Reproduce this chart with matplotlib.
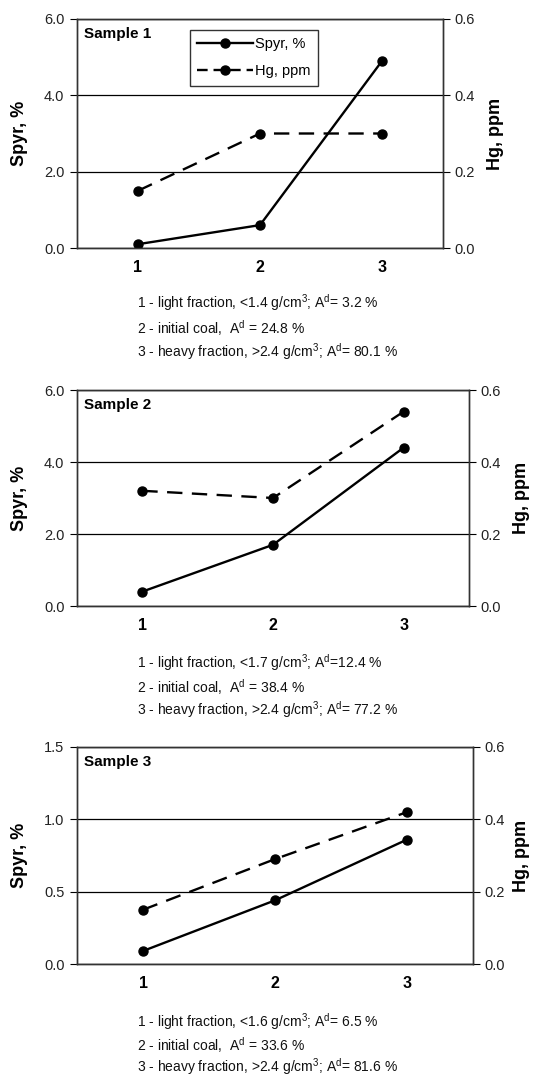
import numpy as np
import matplotlib
matplotlib.use('Agg')
import matplotlib.pyplot as plt
from matplotlib.ticker import FormatStrFormatter
from matplotlib.lines import Line2D

plt.rcParams['font.family'] = ['Liberation Sans', 'DejaVu Sans']
plt.rcParams['mathtext.fontset'] = 'custom'
plt.rcParams['mathtext.rm'] = 'Liberation Sans'
plt.rcParams['mathtext.it'] = 'Liberation Sans'

# data
fractions = [1, 2, 3]
tick_labels = ['1', '2', '3']
samples = ['Sample 1', 'Sample 2', 'Sample 3']
spyr = [[0.1, 0.6, 4.9],
        [0.4, 1.7, 4.4],
        [0.09, 0.44, 0.86]]
hg = [[0.15, 0.30, 0.30],
      [0.32, 0.30, 0.54],
      [0.15, 0.29, 0.42]]
spyr_max = [6.0, 6.0, 1.5]
spyr_step = [2.0, 2.0, 0.5]
hg_max = 0.6
hg_step = 0.2
captions = [
    ['1 - light fraction, <1.4 g/cm$^{3}$; A$^{\\rm d}$= 3.2 %',
     '2 - initial coal,  A$^{\\rm d}$ = 24.8 %',
     '3 - heavy fraction, >2.4 g/cm$^{3}$; A$^{\\rm d}$= 80.1 %'],
    ['1 - light fraction, <1.7 g/cm$^{3}$; A$^{\\rm d}$=12.4 %',
     '2 - initial coal,  A$^{\\rm d}$ = 38.4 %',
     '3 - heavy fraction, >2.4 g/cm$^{3}$; A$^{\\rm d}$= 77.2 %'],
    ['1 - light fraction, <1.6 g/cm$^{3}$; A$^{\\rm d}$= 6.5 %',
     '2 - initial coal,  A$^{\\rm d}$ = 33.6 %',
     '3 - heavy fraction, >2.4 g/cm$^{3}$; A$^{\\rm d}$= 81.6 %'],
]

W, H = 533, 1076
fig = plt.figure(figsize=(W / 100, H / 100), dpi=100)

# panel boxes in pixels: left, right, top, bottom
boxes = [(77, 443, 19, 248), (77, 469, 390, 606), (77, 473, 747, 964)]
right_lab_x = [496, 521, 521]
cap_y = [[303, 328, 352], [663, 687, 710], [1022, 1045, 1067]]

dash = (6.5, 4)
for i in range(3):
    l, r, t, b = boxes[i]
    ax = fig.add_axes([l / W, 1 - b / H, (r - l) / W, (b - t) / H])
    ax2 = ax.twinx()

    ax.plot(fractions, spyr[i], '-o', color='black', lw=1.7, ms=6.5, zorder=3)
    ax2.plot(fractions, hg[i], 'o', ls=(0, dash), color='black', lw=1.7, ms=6.5, zorder=3)

    ax.set_xlim(0.5, 3.5)
    ax.set_ylim(0, spyr_max[i])
    ax2.set_ylim(0, hg_max)
    ax.set_yticks(np.arange(0, spyr_max[i] + 1e-9, spyr_step[i]))
    ax2.set_yticks(np.arange(0, hg_max + 1e-9, hg_step))
    ax.yaxis.set_major_formatter(FormatStrFormatter('%.1f'))
    ax2.yaxis.set_major_formatter(FormatStrFormatter('%.1f'))
    ax.set_xticks(fractions)
    ax.set_xticklabels(tick_labels, fontweight='bold', fontsize=11.5)
    ax.tick_params(axis='x', length=0, pad=9)
    ax.tick_params(axis='y', length=5, width=0.8, labelsize=10.5, labelcolor='#222222', pad=4)
    ax2.tick_params(axis='y', length=5, width=0.8, labelsize=10.5, labelcolor='#222222', pad=3)
    ax.grid(axis='y', color='black', lw=0.9)
    for a in (ax, ax2):
        for s in a.spines.values():
            s.set_linewidth(1.0)
            s.set_color('#333333')

    ax.annotate(samples[i], xy=(0, 1), xycoords='axes fraction', xytext=(5, -11),
                textcoords='offset points', ha='left', va='center',
                fontsize=11, fontweight='bold')

    fig.text(20 / W, 1 - (t + b) / 2 / H, 'Spyr, %', rotation=90, ha='center',
             va='center', fontsize=13, fontweight='bold')
    fig.text(right_lab_x[i] / W, 1 - (t + b) / 2 / H, 'Hg, ppm', rotation=90,
             ha='center', va='center', fontsize=13, fontweight='bold')

    for j in range(3):
        fig.text(137 / W, 1 - cap_y[i][j] / H, captions[i][j], ha='left',
                 va='center', fontsize=10, color='#111111')

    if i == 0:
        h1 = Line2D([], [], color='black', lw=1.7, marker='o', ms=6.5)
        h2 = Line2D([], [], color='black', lw=1.7, marker='o', ms=6.5, ls=(0, (4.5, 2.5)))
        leg = ax2.legend([h1, h2], ['Spyr, %', 'Hg, ppm'], loc='upper left',
                         bbox_to_anchor=((190 - l) / (r - l), 1 - (30 - t) / (b - t)),
                         fontsize=10.5, frameon=True, fancybox=False,
                         handlelength=3.8, handletextpad=0.15, labelspacing=0.9,
                         borderpad=0.5, borderaxespad=0)
        leg.get_frame().set_edgecolor('black')
        leg.get_frame().set_linewidth(1.0)

fig.savefig('out.png', dpi=100)
